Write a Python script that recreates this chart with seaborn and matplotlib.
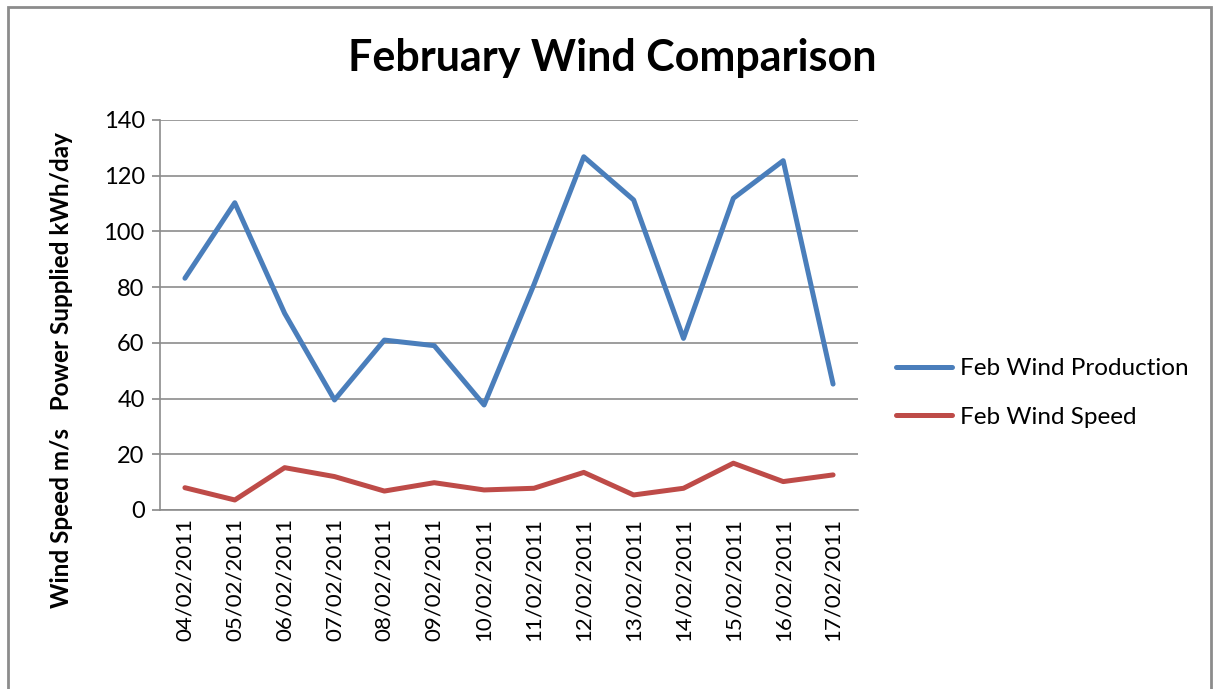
import pandas as pd
import seaborn as sns
import matplotlib.pyplot as plt
from matplotlib.patches import Rectangle

# values
dates = ["04/02/2011", "05/02/2011", "06/02/2011", "07/02/2011", "08/02/2011",
         "09/02/2011", "10/02/2011", "11/02/2011", "12/02/2011", "13/02/2011",
         "14/02/2011", "15/02/2011", "16/02/2011", "17/02/2011"]
production = [83.2, 110.3, 70.6, 39.5, 61.0, 59.0, 37.7, 80.9, 126.8, 111.3,
              61.6, 111.9, 125.4, 45.2]
speed = [8.0, 3.6, 15.2, 12.0, 6.8, 9.8, 7.2, 7.8, 13.5, 5.4, 7.8, 16.8, 10.2, 12.6]
series_names = ["Feb Wind Production", "Feb Wind Speed"]
yticks = [0, 20, 40, 60, 80, 100, 120, 140]

df = pd.DataFrame({
    "date": dates * 2,
    "value": production + speed,
    "series": [series_names[0]] * len(dates) + [series_names[1]] * len(dates),
})

sns.set_theme(style="white")
plt.rcParams["font.family"] = ["Lato", "DejaVu Sans"]
plt.rcParams["text.color"] = "black"
plt.rcParams["xtick.color"] = "black"
plt.rcParams["ytick.color"] = "black"

fig = plt.figure(figsize=(12.13, 6.89), dpi=100)
ax = fig.add_axes([160 / 1213, 1 - 510 / 689, 698 / 1213, 390 / 689])

sns.lineplot(data=df, x="date", y="value", hue="series",
             palette=["#4A7EBB", "#BE4B48"], linewidth=3.6, sort=False,
             ax=ax, solid_capstyle="round", solid_joinstyle="round")

ax.set_xlim(-0.5, len(dates) - 0.5)
ax.set_ylim(0, 140)
ax.set_yticks(yticks)
ax.yaxis.grid(True, color="#8c8c8c", linewidth=1.2)
ax.set_axisbelow(True)
ax.tick_params(axis="y", labelsize=17, length=6, color="#8c8c8c", labelcolor="black",
               direction="out", left=True, pad=5)
ax.tick_params(axis="x", labelsize=16, rotation=90, length=0, labelcolor="black", pad=6)
ax.set_xlabel("")
ax.set_ylabel("")
for s in ["top", "right"]:
    ax.spines[s].set_visible(False)
for s in ["left", "bottom"]:
    ax.spines[s].set_color("#8c8c8c")
    ax.spines[s].set_linewidth(1.2)

handles, labels = ax.get_legend_handles_labels()
ax.legend(handles, labels, loc="center left", bbox_to_anchor=(1.041, 0.3),
          frameon=False, fontsize=17.5, handlelength=2.3, labelspacing=1.15,
          handletextpad=0.3, borderaxespad=0, borderpad=0.4)

fig.text(0.505, 1 - 58 / 689, "February Wind Comparison", ha="center", va="center",
         fontsize=31, fontweight="bold", color="black")
fig.text(62 / 1213, 1 - 370 / 689, "Wind Speed m/s   Power Supplied kWh/day",
         rotation=90, ha="center", va="center", fontsize=17.5, fontweight="bold",
         color="black")

fig.patches.append(Rectangle((8 / 1213, -0.01), 1203 / 1213, 1 - 7 / 689 + 0.01,
                             transform=fig.transFigure, fill=False,
                             edgecolor="#8c8c8c", linewidth=2))

fig.savefig("out.png", dpi=100)
